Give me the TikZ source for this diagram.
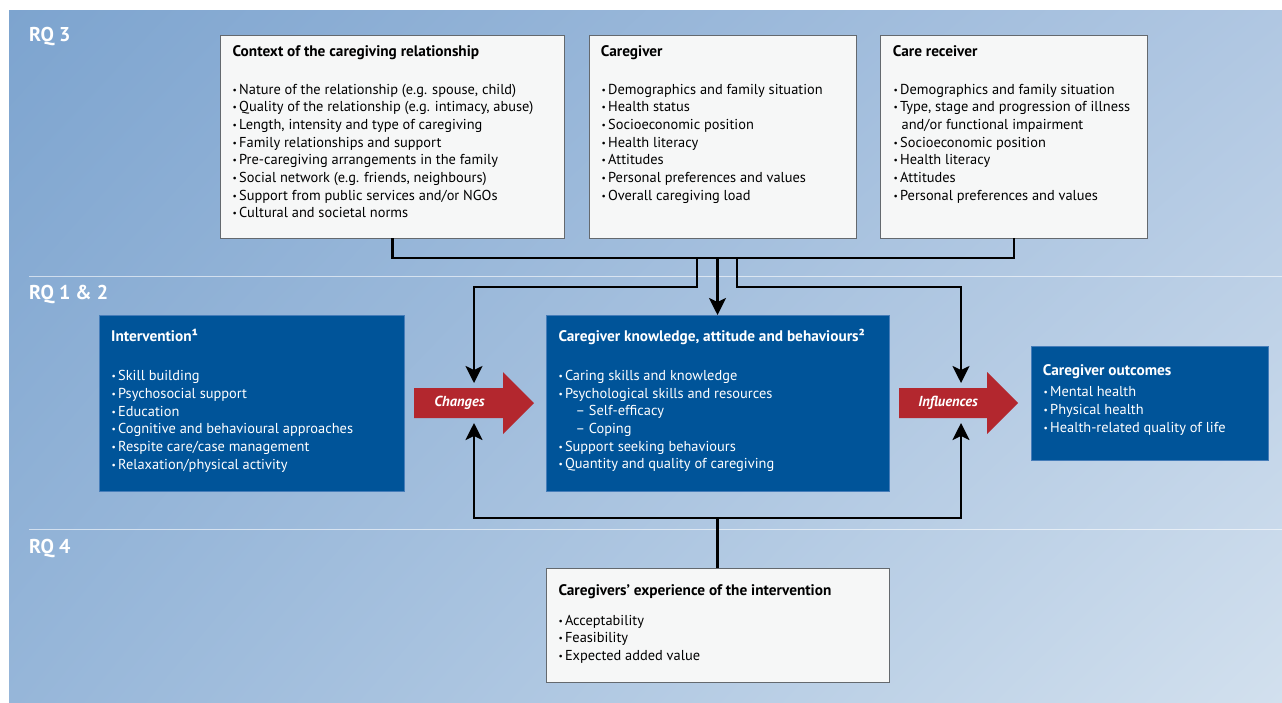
\documentclass[tikz,border=0pt]{standalone}
\usepackage{fontspec}
\setmainfont{PT Sans}
\usetikzlibrary{arrows.meta,shadings}
\definecolor{bgTL}{RGB}{125,164,207}
\definecolor{bgTR}{RGB}{176,199,226}
\definecolor{bgBL}{RGB}{150,182,217}
\definecolor{bgBR}{RGB}{210,224,238}
\definecolor{boxfill}{RGB}{246,247,247}
\definecolor{boxline}{RGB}{100,105,110}
\definecolor{bluefill}{RGB}{0,84,153}
\definecolor{blueline}{RGB}{70,125,185}
\definecolor{redarr}{RGB}{179,39,46}
\newcommand\bu{\makebox[6.5pt][l]{\raisebox{1pt}{\fontsize{9.5}{9.5}\selectfont\textbullet}}}
\newcommand\lst[1]{\begin{tabular}[t]{@{}l@{}}#1\end{tabular}}
\begin{document}
\begin{tikzpicture}[x=1pt,y=-1pt,
  lbox/.style={draw=boxline, line width=0.9pt, fill=boxfill, inner sep=0pt, anchor=north west},
  bbox/.style={draw=blueline, line width=0.6pt, fill=bluefill, inner sep=0pt, anchor=north west},
  ttl/.style={anchor=base west, inner sep=0pt, font=\bfseries\fontsize{15.3}{17.7}\selectfont},
  lstn/.style={anchor=base west, inner sep=0pt, font=\fontsize{14.4}{17.7}\selectfont},
  rq/.style={anchor=base west, inner sep=0pt, text=white, font=\bfseries\fontsize{20}{24}\selectfont},
  arrlbl/.style={anchor=base, inner sep=0pt, text=white, font=\bfseries\itshape\fontsize{14.5}{18}\selectfont},
  sep/.style={white, opacity=0.6, line width=1pt},
  conn/.style={line width=2.4pt, black},
  arr/.style={conn, -{Stealth[length=17pt,width=17pt,inset=4pt]}}
]
\useasboundingbox (0,0) rectangle (1282,702);
\shade[upper left=bgTL, upper right=bgTR, lower left=bgBL, lower right=bgBR] (9,10) rectangle (1282,702);
\draw[sep] (29,276.3) -- (1282,276.3);
\draw[sep] (29,529.3) -- (1282,529.3);

\node[rq] (rq3) at (29,41.7) {RQ 3};
\node[rq] (rq12) at (29,299.3) {RQ 1 \& 2};
\node[rq] (rq4) at (29,553.3) {RQ 4};

% top boxes
\node[lbox, minimum width=344pt, minimum height=203pt] (ctx) at (220,34.5) {};
\node[lbox, minimum width=267pt, minimum height=203pt] (cg) at (588.5,34.5) {};
\node[lbox, minimum width=267pt, minimum height=203pt] (cr) at (880,34.5) {};

\node[ttl] (ctxT) at (232.5,56.7) {Context of the caregiving relationship};
\node[lstn] (ctxL) at (232.5,94) {\lst{\bu Nature of the relationship (e.g. spouse, child)\\
\bu Quality of the relationship (e.g. intimacy, abuse)\\
\bu Length, intensity and type of caregiving\\
\bu Family relationships and support\\
\bu Pre-caregiving arrangements in the family\\
\bu Social network (e.g. friends, neighbours)\\
\bu Support from public services and/or NGOs\\
\bu Cultural and societal norms}};

\node[ttl] (cgT) at (600.7,56.7) {Caregiver};
\node[lstn] (cgL) at (601.5,94) {\lst{\bu Demographics and family situation\\
\bu Health status\\
\bu Socioeconomic position\\
\bu Health literacy\\
\bu Attitudes\\
\bu Personal preferences and values\\
\bu Overall caregiving load}};

\node[ttl] (crT) at (892.7,56.7) {Care receiver};
\node[lstn] (crL) at (893.5,94) {\lst{\bu Demographics and family situation\\
\bu Type, stage and progression of illness\\
\hspace*{8pt}and/or functional impairment\\
\bu Socioeconomic position\\
\bu Health literacy\\
\bu Attitudes\\
\bu Personal preferences and values}};

% middle row
\node[bbox, minimum width=305.5pt, minimum height=175.5pt] (int) at (98.5,315) {};
\node[bbox, minimum width=343pt, minimum height=175.5pt] (kn) at (545.7,315) {};
\node[bbox, minimum width=237.5pt, minimum height=114.5pt] (out) at (1030.7,345.7) {};

\node[ttl, text=white] (intT) at (111,341.7) {Intervention¹};
\node[lstn, text=white] (intL) at (111.5,380.7) {\lst{\bu Skill building\\
\bu Psychosocial support\\
\bu Education\\
\bu Cognitive and behavioural approaches\\
\bu Respite care/case management\\
\bu Relaxation/physical activity}};

\node[ttl, text=white] (knT) at (558.3,341.7) {Caregiver knowledge, attitude and behaviours²};
\node[lstn, text=white] (knL) at (558.3,380.3) {\lst{\bu Caring skills and knowledge\\
\bu Psychological skills and resources\\
\hspace*{17pt}– Self-efficacy\\
\hspace*{17pt}– Coping\\
\bu Support seeking behaviours\\
\bu Quantity and quality of caregiving}};

\node[ttl, text=white] (outT) at (1042.7,375) {Caregiver outcomes};
\node[lstn, text=white] (outL) at (1043.5,396.7) {\lst{\bu Mental health\\
\bu Physical health\\
\bu Health-related quality of life}};

% bottom box
\node[lbox, minimum width=343pt, minimum height=114.3pt] (exp) at (545.7,568) {};
\node[ttl] (expT) at (558.3,595) {Caregivers’ experience of the intervention};
\node[lstn] (expL) at (558.3,625) {\lst{\bu Acceptability\\
\bu Feasibility\\
\bu Expected added value}};

% red arrows
\fill[redarr] (414,388) -- (503,388) -- (503,372) -- (534,403) -- (503,434) -- (503,418) -- (414,418) -- cycle;
\node[arrlbl] (chg) at (459.5,406.7) {Changes};
\fill[redarr] (899,388) -- (987,388) -- (987,372) -- (1018,403) -- (987,434) -- (987,418) -- (899,418) -- cycle;
\node[arrlbl] (inf) at (948,406.3) {Influences};

% connectors
\coordinate (bus) at (0,258);
\coordinate (chgT) at (474,383);
\coordinate (chgB) at (474,423);
\coordinate (infT) at (961,383);
\coordinate (infB) at (961,423);
\coordinate (jL) at (697,258);
\coordinate (jR) at (737,258);
\draw[conn] (ctx.south) -- (ctx.south |- bus) -| (cr.south);
\draw[arr] (jL) -- ++(0,29) -| (chgT);
\draw[arr] (jR) -- ++(0,29) -| (infT);
\draw[arr] (kn.north |- bus) -- (kn.north);
\draw[conn] (exp.north) -- ++(0,-50) coordinate (jB);
\draw[arr] (jB) -| (chgB);
\draw[arr] (jB) -| (infB);
\end{tikzpicture}
\end{document}
